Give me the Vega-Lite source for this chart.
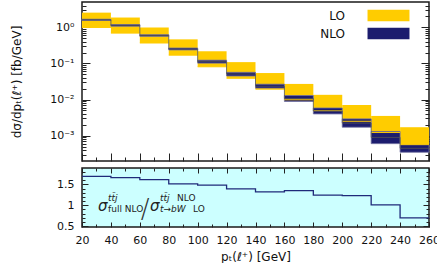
{
  "$schema": "https://vega.github.io/schema/vega-lite/v6.json",
  "padding": {"left": 10, "top": 1, "right": 5, "bottom": 0},
  "bounds": "flush",
  "config": {
    "font": "DejaVu Sans",
    "view": {"stroke": "#1a1a1a", "strokeWidth": 1.5},
    "axis": {"domain": false, "grid": false, "tickColor": "#222", "tickWidth": 1, "labelFontSize": 11, "labelColor": "#111", "titleFontSize": 12, "titleFontWeight": "normal", "titleColor": "#111", "labelFlush": false, "labelOverlap": false},
    "legend": {"labelFontSize": 12, "labelColor": "#111"}
  },
  "resolve": {"scale": {"x": "independent", "y": "independent"}},
  "spacing": 7,
  "datasets": {
    "bins": [
      {"x0": 20, "x1": 40, "lo_lo": 0.987, "lo_hi": 2.54, "nlo_lo": 1.54, "nlo_hi": 1.67, "nlo_c": 1.60, "ratio": 1.69},
      {"x0": 40, "x1": 60, "lo_lo": 0.69, "lo_hi": 1.86, "nlo_lo": 1.07, "nlo_hi": 1.19, "nlo_c": 1.13, "ratio": 1.66},
      {"x0": 60, "x1": 80, "lo_lo": 0.367, "lo_hi": 0.987, "nlo_lo": 0.56, "nlo_hi": 0.623, "nlo_c": 0.593, "ratio": 1.61},
      {"x0": 80, "x1": 100, "lo_lo": 0.169, "lo_hi": 0.463, "nlo_lo": 0.236, "nlo_hi": 0.267, "nlo_c": 0.251, "ratio": 1.51},
      {"x0": 100, "x1": 120, "lo_lo": 0.0807, "lo_hi": 0.217, "nlo_lo": 0.102, "nlo_hi": 0.123, "nlo_c": 0.112, "ratio": 1.48},
      {"x0": 120, "x1": 140, "lo_lo": 0.0388, "lo_hi": 0.1086, "nlo_lo": 0.0449, "nlo_hi": 0.0567, "nlo_c": 0.0509, "ratio": 1.39},
      {"x0": 140, "x1": 160, "lo_lo": 0.0194, "lo_hi": 0.0542, "nlo_lo": 0.0207, "nlo_hi": 0.0266, "nlo_c": 0.0234, "ratio": 1.32},
      {"x0": 160, "x1": 180, "lo_lo": 0.00988, "lo_hi": 0.0271, "nlo_lo": 0.00887, "nlo_hi": 0.01295, "nlo_c": 0.01072, "ratio": 1.35},
      {"x0": 180, "x1": 200, "lo_lo": 0.00493, "lo_hi": 0.01354, "nlo_lo": 0.00401, "nlo_hi": 0.00585, "nlo_c": 0.00484, "ratio": 1.24},
      {"x0": 200, "x1": 220, "lo_lo": 0.00251, "lo_hi": 0.00707, "nlo_lo": 0.00172, "nlo_hi": 0.00292, "nlo_c": 0.00224, "ratio": 1.23},
      {"x0": 220, "x1": 240, "lo_lo": 0.00123, "lo_hi": 0.00353, "nlo_lo": 0.000604, "nlo_hi": 0.00131, "nlo_c": 0.000898, "ratio": 1.01},
      {"x0": 240, "x1": 260, "lo_lo": 0.000567, "lo_hi": 0.00172, "nlo_lo": 0.000349, "nlo_hi": 0.000567, "nlo_c": 0.000449, "ratio": 0.70}
    ]
  },
  "vconcat": [
    {
      "width": 347,
      "height": 159,
      "data": {"name": "bins"},
      "layer": [
        {
          "mark": {"type": "rect"},
          "encoding": {
            "x": {"field": "x0", "type": "quantitative", "scale": {"domain": [20, 260], "nice": false, "zero": false},
              "axis": {"orient": "bottom", "values": [20,30,40,50,60,70,80,90,100,110,120,130,140,150,160,170,180,190,200,210,220,230,240,250,260], "labels": false, "title": null,
                "tickSize": {"condition": {"test": "datum.value % 20 == 0", "value": -8}, "value": -4}}},
            "x2": {"field": "x1"},
            "y": {"field": "lo_lo", "type": "quantitative", "scale": {"type": "log", "domain": [0.0002, 5], "nice": false},
              "axis": {"orient": "left", "values": [0.0003,0.0004,0.0005,0.0006,0.0007,0.0008,0.0009,0.001,0.002,0.003,0.004,0.005,0.006,0.007,0.008,0.009,0.01,0.02,0.03,0.04,0.05,0.06,0.07,0.08,0.09,0.1,0.2,0.3,0.4,0.5,0.6,0.7,0.8,0.9,1,2,3,4],
                "labelExpr": "datum.value == 1 ? '10⁰' : datum.value == 0.1 ? '10⁻¹' : datum.value == 0.01 ? '10⁻²' : datum.value == 0.001 ? '10⁻³' : ''",
                "labelFontSize": {"condition": {"test": "abs(log(datum.value)/LN10 - round(log(datum.value)/LN10)) < 0.001", "value": 11}, "value": 0},
                "tickSize": {"condition": {"test": "abs(log(datum.value)/LN10 - round(log(datum.value)/LN10)) < 0.001", "value": -8}, "value": -4},
                "labelPadding": 16, "title": "dσ/dpₜ(ℓ⁺)  [fb/GeV]", "titlePadding": 26}},
            "y2": {"field": "lo_hi"},
            "color": {"datum": "LO", "type": "nominal", "scale": {"domain": ["LO", "NLO"], "range": ["#ffcc00", "#1c1c6e"]},
              "legend": {"orient": "none", "legendX": 296, "legendY": 3, "title": null, "symbolType": "M-2,-0.55H2V0.55H-2Z", "symbolSize": 440, "labelAlign": "right", "labelOffset": -54, "rowPadding": 1, "symbolStrokeWidth": 0, "labelFontSize": 12}}
          }
        },
        {
          "mark": {"type": "rect", "stroke": "#6f6fa0", "strokeWidth": 0.8},
          "encoding": {
            "x": {"field": "x0", "type": "quantitative", "axis": null},
            "x2": {"field": "x1"},
            "y": {"field": "nlo_lo", "type": "quantitative",
              "axis": {"orient": "right", "values": [0.0003,0.0004,0.0005,0.0006,0.0007,0.0008,0.0009,0.001,0.002,0.003,0.004,0.005,0.006,0.007,0.008,0.009,0.01,0.02,0.03,0.04,0.05,0.06,0.07,0.08,0.09,0.1,0.2,0.3,0.4,0.5,0.6,0.7,0.8,0.9,1,2,3,4],
                "labels": false, "title": null,
                "tickSize": {"condition": {"test": "abs(log(datum.value)/LN10 - round(log(datum.value)/LN10)) < 0.001", "value": -8}, "value": -4}}},
            "y2": {"field": "nlo_hi"},
            "color": {"datum": "NLO", "type": "nominal"}
          }
        },
        {
          "mark": {"type": "rule", "color": "#ffcc00", "strokeWidth": 1},
          "encoding": {
            "x": {"field": "x0", "type": "quantitative", "axis": null},
            "x2": {"field": "x1"},
            "y": {"field": "lo_lo", "type": "quantitative", "axis": null}
          }
        },
        {
          "transform": [{"fold": ["x0", "x1"], "as": ["edge", "xpos"]}],
          "mark": {"type": "line", "color": "#555555", "strokeWidth": 1, "opacity": 0.8},
          "encoding": {
            "x": {"field": "xpos", "type": "quantitative", "axis": null},
            "y": {"field": "nlo_c", "type": "quantitative", "axis": null},
            "order": [{"field": "xpos", "type": "quantitative"}, {"field": "x0", "type": "quantitative"}]
          }
        }
      ],
      "resolve": {"axis": {"x": "independent", "y": "independent"}}
    },
    {
      "width": 347,
      "height": 59,
      "view": {"fill": "#ccffff"},
      "layer": [
        {
          "data": {"name": "bins"},
          "transform": [{"fold": ["x0", "x1"], "as": ["edge", "xpos"]}],
          "mark": {"type": "line", "color": "#1f2a7a", "strokeWidth": 1.3},
          "encoding": {
            "x": {"field": "xpos", "type": "quantitative", "scale": {"domain": [20, 260], "nice": false, "zero": false},
              "axis": {"orient": "bottom", "values": [20,30,40,50,60,70,80,90,100,110,120,130,140,150,160,170,180,190,200,210,220,230,240,250,260],
                "labelExpr": "datum.value % 20 == 0 ? datum.label : ''",
                "labelFontSize": {"condition": {"test": "datum.value % 20 == 0", "value": 11}, "value": 0},
                "tickSize": {"condition": {"test": "datum.value % 20 == 0", "value": -5}, "value": -3},
                "labelPadding": 12, "title": "pₜ(ℓ⁺) [GeV]", "titlePadding": 6}},
            "y": {"field": "ratio", "type": "quantitative", "scale": {"domain": [0.48, 1.89], "nice": false, "zero": false},
              "axis": {"orient": "left", "values": [0.5,0.6,0.7,0.8,0.9,1,1.1,1.2,1.3,1.4,1.5,1.6,1.7,1.8],
                "labelExpr": "datum.value == 1 ? '1' : datum.value == 1.5 ? '1.5' : datum.value == 0.5 ? '0.5' : ''",
                "labelFontSize": {"condition": {"test": "datum.value == 0.5 || datum.value == 1 || datum.value == 1.5", "value": 11}, "value": 0},
                "tickSize": {"condition": {"test": "datum.value == 0.5 || datum.value == 1 || datum.value == 1.5", "value": -6}, "value": -3},
                "labelPadding": 14, "title": null}},
            "order": [{"field": "xpos", "type": "quantitative"}, {"field": "x0", "type": "quantitative"}]
          }
        },
        {
          "data": {"values": [{}]},
          "mark": {"type": "text", "fontStyle": "italic", "fontSize": 15, "align": "left", "baseline": "alphabetic", "color": "#222"},
          "encoding": {
            "x": {"datum": 31.1, "type": "quantitative",
              "axis": {"orient": "top", "values": [20,30,40,50,60,70,80,90,100,110,120,130,140,150,160,170,180,190,200,210,220,230,240,250,260], "labels": false, "title": null,
                "tickSize": {"condition": {"test": "datum.value % 20 == 0", "value": -5}, "value": -3}}},
            "y": {"datum": 0.861, "type": "quantitative",
              "axis": {"orient": "right", "values": [0.5,0.6,0.7,0.8,0.9,1,1.1,1.2,1.3,1.4,1.5,1.6,1.7,1.8], "labels": false, "title": null,
                "tickSize": {"condition": {"test": "datum.value == 0.5 || datum.value == 1 || datum.value == 1.5", "value": -6}, "value": -3}}},
            "text": {"value": "σ"}
          }
        },
        {
          "data": {"values": [{}]},
          "mark": {"type": "text", "fontStyle": "italic", "fontSize": 9, "align": "left", "baseline": "alphabetic", "color": "#222"},
          "encoding": {"x": {"datum": 38.0, "type": "quantitative", "axis": null}, "y": {"datum": 1.10, "type": "quantitative", "axis": null}, "text": {"value": "tt̄j"}}
        },
        {
          "data": {"values": [{}]},
          "mark": {"type": "text", "fontSize": 9, "align": "left", "baseline": "alphabetic", "color": "#222"},
          "encoding": {"x": {"datum": 38.0, "type": "quantitative", "axis": null}, "y": {"datum": 0.837, "type": "quantitative", "axis": null}, "text": {"value": "full NLO"}}
        },
        {
          "data": {"values": [{}]},
          "mark": {"type": "text", "fontSize": 26, "fontWeight": 200, "align": "left", "baseline": "alphabetic", "color": "#333"},
          "encoding": {"x": {"datum": 60.6, "type": "quantitative", "axis": null}, "y": {"datum": 0.694, "type": "quantitative", "axis": null}, "text": {"value": "/"}}
        },
        {
          "data": {"values": [{}]},
          "mark": {"type": "text", "fontStyle": "italic", "fontSize": 15, "align": "left", "baseline": "alphabetic", "color": "#222"},
          "encoding": {"x": {"datum": 67.0, "type": "quantitative", "axis": null}, "y": {"datum": 0.861, "type": "quantitative", "axis": null}, "text": {"value": "σ"}}
        },
        {
          "data": {"values": [{}]},
          "mark": {"type": "text", "fontStyle": "italic", "fontSize": 9, "align": "left", "baseline": "alphabetic", "color": "#222"},
          "encoding": {"x": {"datum": 73.9, "type": "quantitative", "axis": null}, "y": {"datum": 1.10, "type": "quantitative", "axis": null}, "text": {"value": "tt̄j"}}
        },
        {
          "data": {"values": [{}]},
          "mark": {"type": "text", "fontSize": 9, "align": "left", "baseline": "alphabetic", "color": "#222"},
          "encoding": {"x": {"datum": 85.7, "type": "quantitative", "axis": null}, "y": {"datum": 1.10, "type": "quantitative", "axis": null}, "text": {"value": "NLO"}}
        },
        {
          "data": {"values": [{}]},
          "mark": {"type": "text", "fontStyle": "italic", "fontSize": 9, "align": "left", "baseline": "alphabetic", "color": "#222"},
          "encoding": {"x": {"datum": 73.9, "type": "quantitative", "axis": null}, "y": {"datum": 0.837, "type": "quantitative", "axis": null}, "text": {"value": "t→bW"}}
        },
        {
          "data": {"values": [{}]},
          "mark": {"type": "text", "fontSize": 9, "align": "left", "baseline": "alphabetic", "color": "#222"},
          "encoding": {"x": {"datum": 96.8, "type": "quantitative", "axis": null}, "y": {"datum": 0.837, "type": "quantitative", "axis": null}, "text": {"value": "LO"}}
        }
      ],
      "resolve": {"axis": {"x": "independent", "y": "independent"}}
    }
  ]
}
